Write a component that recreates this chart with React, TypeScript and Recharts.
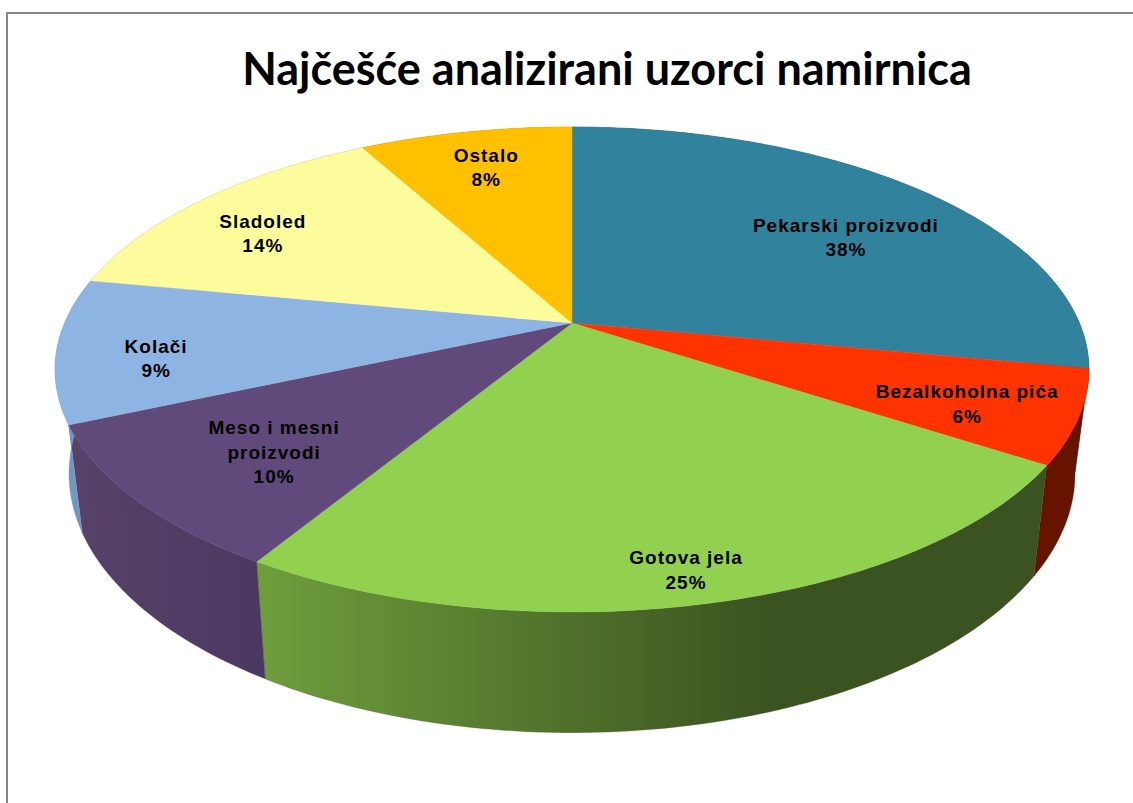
import { PieChart, Pie } from "recharts";

const categories = [
  "Pekarski proizvodi",
  "Bezalkoholna pića",
  "Gotova jela",
  "Meso i mesni proizvodi",
  "Kolači",
  "Sladoled",
  "Ostalo",
];
// slice sizes as drawn; the printed label of the first slice says 38%
const sliceValues = [28, 6.2, 24.5, 9.7, 9.6, 14, 8];
const printedPercents = ["38%", "6%", "25%", "10%", "9%", "14%", "8%"];
const topColors = ["#31829C", "#FF3300", "#92D050", "#604A7B", "#8EB4E3", "#FCFC9C", "#FFC000"];
const wallFrom = ["#1D4E5D", "#661400", "#6F9E3C", "#574269", "#7396C0", "#97975D", "#997300"];
const wallTo = ["#1D4E5D", "#661400", "#3B5320", "#4B3860", "#7396C0", "#97975D", "#997300"];
const wallStop = [1, 1, 0.65, 1, 1, 1, 1];

// where each label sits on the disc, relative to the slice middle
const labelReach = [0.7, 0.8, 0.9, 0.73, 0.81, 0.775, 0.784];
const labelTurn = [5.6, 2.2, 0.8, -2.15, -4.1, -4, 0.1];

const chartData = categories.map((name, i) => ({ name, value: sliceValues[i], fill: topColors[i] }));

const WIDTH = 1133;
const HEIGHT = 803;
const HUB_X = 572;
const HUB_Y = 323;
// tilted disc: near side is drawn larger than the far side
const SPREAD_X = 507.4;
const SPREAD_Y = 233.6;
const TILT = 0.1917;

const rad = (deg: number) => (deg * Math.PI) / 180;

function onDisc(bearing: number, reach = 1) {
  const u = reach * Math.sin(rad(bearing));
  const v = reach * Math.cos(rad(bearing));
  const w = 1 + TILT * v;
  return { x: HUB_X + (SPREAD_X * u) / w, y: HUB_Y - (SPREAD_Y * v) / w };
}

function onFloor(p: { x: number; y: number }) {
  return { x: HUB_X + 0.973 * (p.x - HUB_X), y: p.y + 101 + 0.068 * (p.y - HUB_Y) };
}

function rim(from: number, to: number) {
  const pts = [];
  const steps = Math.max(2, Math.ceil(to - from));
  for (let i = 0; i <= steps; i++) pts.push(onDisc(from + ((to - from) * i) / steps));
  return pts;
}

const toPath = (pts: { x: number; y: number }[]) =>
  pts.map((p, i) => `${i ? "L" : "M"}${p.x.toFixed(2)},${p.y.toFixed(2)}`).join(" ") + " Z";

function TopFace(props: any) {
  const arc = rim(90 - props.startAngle, 90 - props.endAngle);
  return <path d={toPath([{ x: HUB_X, y: HUB_Y }, ...arc])} fill={props.fill} stroke={props.fill} strokeWidth={0.4} />;
}

function WallFace(props: any) {
  const i = categories.indexOf(props.name);
  const arc = rim(90 - props.startAngle, 90 - props.endAngle);
  const floor = arc.map(onFloor).reverse();
  return (
    <g>
      <defs>
        <linearGradient id={`wall-${i}`} x1="0" y1="0" x2="1" y2="0">
          <stop offset="0" stopColor={wallFrom[i]} />
          <stop offset={wallStop[i]} stopColor={wallTo[i]} />
        </linearGradient>
      </defs>
      <path d={toPath([...arc, ...floor])} fill={`url(#wall-${i})`} stroke={wallTo[i]} strokeWidth={0.3} />
    </g>
  );
}

function SliceLabel(props: any) {
  const i = props.index;
  const bearing = 90 - props.midAngle + labelTurn[i];
  const spot = onDisc(bearing, labelReach[i]);
  const rows = categories[i] === "Meso i mesni proizvodi" ? ["Meso i mesni", "proizvodi"] : [categories[i]];
  const all = [...rows, printedPercents[i]];
  const top = spot.y - ((all.length - 1) * 24.5) / 2;
  return (
    <text
      textAnchor="middle"
      fontFamily="Liberation Sans, Arial, sans-serif"
      fontWeight={700}
      fontSize={19}
      letterSpacing={1}
      fill="#000"
    >
      {all.map((row, r) => (
        <tspan key={r} x={spot.x} y={top + r * 24.5 + 6}>
          {row}
        </tspan>
      ))}
    </text>
  );
}

export default function App() {
  return (
    <div style={{ position: "absolute", left: 0, top: 0, width: WIDTH, height: HEIGHT, overflow: "hidden", background: "#fff" }}>
      <div style={{ position: "absolute", left: 6, top: 12, right: 0, bottom: 0, borderTop: "2px solid #868686", borderLeft: "2px solid #868686" }} />
      <div
        style={{
          position: "absolute",
          left: 0,
          top: 39,
          width: 1214,
          textAlign: "center",
          fontFamily: "Lato, Carlito, sans-serif",
          fontWeight: 700,
          fontSize: 45,
          lineHeight: "58px",
          color: "#000",
        }}
      >
        Najčešće analizirani uzorci namirnica
      </div>
      <div style={{ position: "absolute", left: 0, top: 0 }}>
        <PieChart width={WIDTH} height={HEIGHT} margin={{ top: 0, right: 0, bottom: 0, left: 0 }}>
          <Pie
            data={chartData}
            dataKey="value"
            cx={HUB_X}
            cy={HUB_Y}
            outerRadius={SPREAD_X}
            startAngle={90}
            endAngle={-270}
            stroke="none"
            shape={WallFace}
            isAnimationActive={false}
          />
          <Pie
            data={chartData}
            dataKey="value"
            cx={HUB_X}
            cy={HUB_Y}
            outerRadius={SPREAD_X}
            startAngle={90}
            endAngle={-270}
            stroke="none"
            shape={TopFace}
            label={SliceLabel}
            labelLine={false}
            isAnimationActive={false}
          />
        </PieChart>
      </div>
    </div>
  );
}
